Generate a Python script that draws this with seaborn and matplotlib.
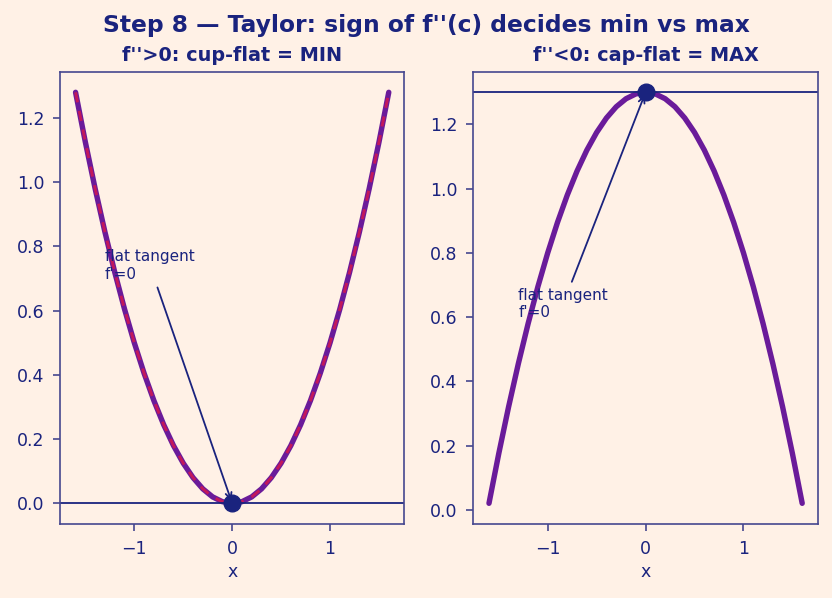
import numpy as np
import pandas as pd
import matplotlib
matplotlib.use('Agg')
import matplotlib.pyplot as plt
import seaborn as sns

sns.set_theme(style='white')
plt.rcParams['font.family'] = ['DejaVu Sans']

## Data.
x_vals = [-1.6, -1.5, -1.4, -1.3, -1.2, -1.1, -1.0, -0.9, -0.8, -0.7, -0.6, -0.5, -0.4, -0.3, -0.2, -0.1, 0.0,
          0.1, 0.2, 0.3, 0.4, 0.5, 0.6, 0.7, 0.8, 0.9, 1.0, 1.1, 1.2, 1.3, 1.4, 1.5, 1.6]
cup_vals = [1.28, 1.125, 0.98, 0.845, 0.72, 0.605, 0.5, 0.405, 0.32, 0.245, 0.18, 0.125, 0.08, 0.045, 0.02, 0.005, 0.0,
            0.005, 0.02, 0.045, 0.08, 0.125, 0.18, 0.245, 0.32, 0.405, 0.5, 0.605, 0.72, 0.845, 0.98, 1.125, 1.28]
cap_vals = [0.02, 0.175, 0.32, 0.455, 0.58, 0.695, 0.8, 0.895, 0.98, 1.055, 1.12, 1.175, 1.22, 1.255, 1.28, 1.295, 1.3,
            1.295, 1.28, 1.255, 1.22, 1.175, 1.12, 1.055, 0.98, 0.895, 0.8, 0.695, 0.58, 0.455, 0.32, 0.175, 0.02]
crit_x = [0.0, 0.0]
crit_y = [0.0, 1.3]
titles = ["f''>0: cup-flat = MIN", "f''<0: cap-flat = MAX"]
note_pos = [(-1.3, 0.7), (-1.3, 0.6)]

## Styles.
bg = '#fff1e6'
navy = '#1a237e'
purple = '#6a1b9a'
crimson = '#c2185b'
spine = '#45478f'

df = pd.DataFrame({'x': x_vals, 'cup': cup_vals, 'cap': cap_vals})

fig = plt.figure(figsize=(8.32, 5.98), dpi=100, facecolor=bg)
gs = fig.add_gridspec(1, 2, left=0.072, right=0.983, top=0.880, bottom=0.124, wspace=0.20)

for i, col in enumerate(['cup', 'cap']):
    ax = fig.add_subplot(gs[0, i])
    ax.set_facecolor(bg)

    sns.lineplot(data=df, x='x', y=col, color=purple, lw=3.9, ax=ax)
    if i == 0:
        sns.lineplot(data=df, x='x', y=col, color=crimson, lw=2.1, ax=ax, linestyle=(0, (3.5, 3)))

    ax.axhline(crit_y[i], color=navy, lw=1.3)
    ax.plot(crit_x[i], crit_y[i], 'o', color=navy, ms=12, zorder=5)

    ax.annotate('flat tangent\nf\'=0', xy=(crit_x[i], crit_y[i]), xytext=note_pos[i],
                color=navy, fontsize=11, arrowprops=dict(arrowstyle='->', color=navy, lw=1.3))

    ax.set_title(titles[i], color=navy, fontsize=13.9, fontweight='bold', pad=8)
    ax.set_xlabel('x', color=navy, fontsize=12.5)
    ax.set_ylabel('')
    ax.set_xticks([-1, 0, 1])
    ax.set_yticks([0.0, 0.2, 0.4, 0.6, 0.8, 1.0, 1.2])
    ax.set_yticklabels(['0.0', '0.2', '0.4', '0.6', '0.8', '1.0', '1.2'])
    ax.tick_params(colors=navy, labelsize=12.5, length=4.8, width=1.2, pad=6.5,
                   bottom=True, left=True, color=spine)
    for s in ax.spines.values():
        s.set(color=spine, linewidth=1.2)

fig.suptitle("Step 8 \u2014 Taylor: sign of f''(c) decides min vs max", color=navy,
             fontsize=16.8, fontweight='bold', x=0.512, y=0.976)

plt.savefig('out.png', dpi=100, facecolor=bg)
